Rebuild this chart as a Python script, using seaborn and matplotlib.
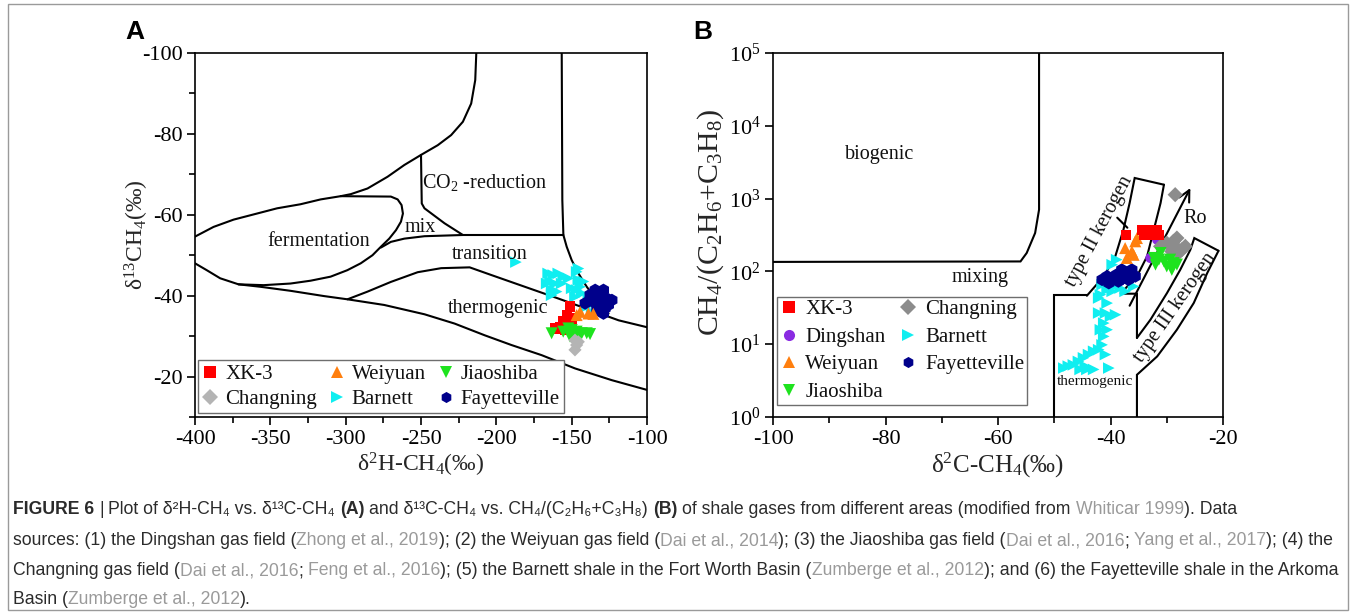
import numpy as np
import pandas as pd
import matplotlib
matplotlib.use("Agg")
import matplotlib.pyplot as plt
import seaborn as sns
from matplotlib.lines import Line2D
from matplotlib.patches import Rectangle
from matplotlib import font_manager
from matplotlib.ticker import MultipleLocator, LogLocator, LogFormatterMathtext, NullLocator

# ---------------- data: panel A (dD-CH4 vs d13C-CH4) ----------------
a_xk3_x = [-151.1, -153.3, -150.0, -155.6, -152.2, -161.1, -157.8, -154.4, -150.0]
a_xk3_y = [-37.3, -35.2, -34.4, -33.6, -33.2, -31.9, -32.3, -31.5, -32.7]
a_weiyuan_x = [-144.4, -138.9, -146.7, -135.6]
a_weiyuan_y = [-36.0, -35.6, -35.2, -35.5]
a_jiaoshiba_x = [-163.3, -152.2, -150.0, -146.7, -143.3, -140.0, -137.8, -151.1, -145.6, -148.9, -155.6]
a_jiaoshiba_y = [-30.7, -31.9, -31.5, -31.1, -30.7, -30.7, -30.5, -29.9, -29.9, -30.3, -31.1]
a_changning_x = [-147.8, -146.7, -147.8, -145.6]
a_changning_y = [-29.0, -27.8, -26.6, -28.6]
a_barnett_x = [-165.6, -162.2, -158.9, -155.6, -164.4, -161.1, -156.7, -163.3, -160.0, -152.2, -146.7,
               -145.6, -144.4, -143.3, -146.7, -138.9, -140.0, -136.7, -147.8, -150.0, -142.2, -187.0,
               -145.5, -166.6, -163.3]
a_barnett_y = [-45.5, -45.1, -45.5, -44.7, -43.5, -43.0, -43.0, -41.4, -41.0, -44.3, -45.9,
               -43.9, -42.2, -40.6, -41.4, -38.9, -37.3, -36.0, -39.7, -41.8, -43.5, -48.3,
               -46.7, -43.0, -40.1]
a_fay_x = [-134.4, -128.9, -132.2, -126.7, -123.3, -135.6, -130.0, -133.3, -127.8, -125.6, -141.1, -131.1,
           -128.9, -137.8]
a_fay_y = [-41.4, -41.4, -39.7, -39.3, -38.9, -38.5, -37.7, -36.4, -36.9, -37.7, -38.1, -38.9,
           -35.6, -40.2]

# field boundaries (panel A)
a_bio_top_x = [-213.3, -214.0, -216.7, -222.2, -230.0, -238.9, -250.0, -261.1, -272.2, -285.5, -296.6, -303.3,
               -316.6, -330.0, -345.5, -358.9, -374.4, -387.7, -400.0]
a_bio_top_y = [-100.0, -93.3, -87.5, -83.0, -79.7, -77.2, -74.8, -72.3, -69.4, -66.5, -65.1, -64.6,
               -63.8, -62.6, -61.6, -60.3, -58.8, -57.0, -54.6]
a_ferm_x = [-303.3, -270.0, -265.5, -262.9, -262.0, -263.3, -266.6, -271.1, -276.6, -282.2, -290.0, -298.9,
            -310.0, -323.3, -336.6, -354.4, -371.1]
a_ferm_y = [-64.6, -64.5, -63.8, -62.4, -60.3, -58.3, -56.2, -54.1, -52.1, -50.0, -48.0, -46.3,
            -44.7, -43.7, -43.0, -42.6, -42.8]
a_bottom_x = [-400.0, -392.2, -383.3, -371.1, -356.6, -336.6, -314.4, -298.8, -274.4, -247.7, -227.7, -207.7,
              -190.0, -170.0, -147.7, -123.3, -100.0]
a_bottom_y = [-48.0, -46.3, -44.3, -42.8, -42.2, -41.2, -39.9, -39.1, -37.7, -35.4, -33.1, -30.2,
              -27.8, -25.3, -22.0, -19.1, -16.7]
a_trans_top_x = [-276.6, -270.0, -261.1, -247.7, -222.2, -181.1, -155.5]
a_trans_top_y = [-51.9, -53.3, -54.1, -54.7, -55.0, -55.0, -55.0]
a_co2_left_x = [-222.2, -234.4, -247.7, -249.5, -250.0]
a_co2_left_y = [-55.0, -57.9, -61.6, -62.8, -74.8]
a_right_x = [-156.6, -156.2, -155.5, -153.3, -150.0, -145.5, -140.0, -133.3, -125.5]
a_right_y = [-100.0, -63.6, -55.0, -52.1, -48.8, -45.5, -42.2, -38.9, -35.6]
a_thermo_top_x = [-298.8, -285.5, -270.0, -252.2, -236.6, -217.7, -203.3, -181.1, -158.9, -136.6, -118.8, -100.0]
a_thermo_top_y = [-39.1, -41.0, -43.4, -45.8, -46.8, -47.0, -45.1, -42.2, -39.3, -36.3, -33.9, -32.2]

# ---------------- data: panel B (d13C-CH4 vs C1/(C2+C3)) ----------------
b_xk3_x = [-37.2, -34.4, -33.5, -32.6, -31.7, -31.4, -34.1, -32.9]
b_xk3_y = [319, 374, 374, 355, 374, 319, 319, 319]
b_dingshan_x = [-31.7, -32.9]
b_dingshan_y = [273, 153]
b_weiyuan_x = [-35.3, -35.6, -37.4, -36.2, -37.1, -35.9]
b_weiyuan_y = [287, 259, 209, 188, 153, 169]
b_jiaoshiba_x = [-32.3, -31.4, -30.5, -29.4, -28.8, -30.0, -31.1, -29.1, -28.2, -32.0]
b_jiaoshiba_y = [153, 145, 137, 145, 130, 117, 179, 105, 124, 124]
b_changning_x = [-28.5, -31.1, -30.0, -28.8, -28.2, -27.3, -26.7, -29.1, -27.9, -28.2]
b_changning_y = [1132, 221, 245, 259, 209, 199, 221, 188, 179, 287]
b_barnett_x = [-48.3, -47.5, -46.6, -45.7, -44.8, -43.9, -43.0, -45.4, -44.5, -42.1, -41.5, -41.2,
               -41.8, -40.6, -41.2, -42.1, -40.9, -39.1, -40.0, -40.3, -40.9, -43.0, -41.8, -40.6,
               -39.4, -41.5, -38.3, -39.7, -38.9, -35.9, -37.4, -40.6, -42.1, -44.2, -39.7]
b_barnett_y = [4.7, 5.0, 5.2, 5.8, 6.5, 7.2, 8.0, 4.5, 5.0, 8.4, 9.8, 12.8,
               15.8, 15.8, 19.5, 26.8, 26.8, 25.4, 24.1, 4.7, 7.2, 4.5, 47.9, 56.1,
               62.2, 65.6, 59.0, 123.6, 144.9, 62.2, 53.2, 36.7, 43.1, 4.5, 53.2]
b_fay_x = [-41.5, -40.6, -39.7, -38.9, -38.0, -37.1, -36.2, -35.6, -37.7, -36.8, -40.3, -38.6, -36.2]
b_fay_y = [76.9, 85.5, 81.1, 90.2, 105.4, 95.1, 90.2, 85.5, 81.1, 76.9, 69.2, 72.9, 105.4]

# field boundaries (panel B)
b_bio_x = [-52.7, -52.7, -53.4, -54.9, -56.0, -100.0]
b_bio_y = [1e5, 705, 337, 179, 137, 135]
b_thermo_left_x = [-50.0, -50.0, -44.2]
b_thermo_left_y = [1.0, 47.9, 47.9]
b_t2_left_x = [-44.2, -41.2, -39.15, -37.7, -36.6, -35.7, -30.5]
b_t2_left_y = [46.3, 85.5, 161, 374, 869, 1919, 1552]
b_t2_right_x = [-30.5, -31.1, -32.3, -33.5, -35.3, -38.25, -35.3, -35.3]
b_t2_right_y = [1552, 869, 374, 161, 85.5, 49.4, 49.4, 12.2]
b_t3_left_x = [-35.3, -32.9, -29.95, -27.6, -25.8, -25.1, -20.8]
b_t3_left_y = [12.2, 21.7, 50.5, 105.4, 198.6, 287, 192]
b_t3_right_x = [-20.8, -22.8, -25.2, -28.2, -31.7, -35.3, -35.3]
b_t3_right_y = [192, 95.1, 36.8, 15.8, 6.8, 3.8, 1.0]
b_tick_x = [-38.8, -37.0]
b_tick_y = [547, 398]
b_ro_x = [-36.6, -25.8]
b_ro_y = [33.8, 1396]

series_names = ["XK-3", "Dingshan", "Weiyuan", "Jiaoshiba", "Changning", "Barnett", "Fayetteville"]

# ---------------- styles ----------------
style = {
    "XK-3": dict(marker="s", color="#ff0000", s=55),
    "Dingshan": dict(marker="o", color="#8a2be2", s=55),
    "Weiyuan": dict(marker="^", color="#ff7f0e", s=75),
    "Jiaoshiba": dict(marker="v", color="#1ee31e", s=75),
    "Changning": dict(marker="D", color="#b4b4b4", s=45),
    "Barnett": dict(marker=">", color="#10eef0", s=70),
    "Fayetteville": dict(marker="h", color="#00008b", s=85),
}

sns.set_style("ticks")
plt.rcParams.update({
    "font.family": ["Liberation Serif", "DejaVu Serif"],
    "mathtext.fontset": "custom",
    "mathtext.rm": "Liberation Serif",
    "mathtext.it": "Liberation Serif:italic",
    "mathtext.bf": "Liberation Serif:bold",
    "axes.unicode_minus": False,
    "axes.edgecolor": "black",
    "axes.linewidth": 1.2,
    "xtick.color": "black",
    "ytick.color": "black",
    "text.color": "#111111",
})

W, H = 1356, 614
fig = plt.figure(figsize=(W / 100, H / 100), dpi=100)
fig.patch.set_facecolor("white")
axA = fig.add_axes([195 / W, 1 - 417 / H, 452 / W, 364 / H])
axB = fig.add_axes([773 / W, 1 - 417 / H, 450 / W, 364 / H])

LW = 1.5
TICK_FS = 16

# ---------------- panel A ----------------
for xs, ys in [(a_bio_top_x, a_bio_top_y), (a_ferm_x, a_ferm_y), (a_bottom_x, a_bottom_y),
               (a_trans_top_x, a_trans_top_y), (a_co2_left_x, a_co2_left_y), (a_right_x, a_right_y),
               (a_thermo_top_x, a_thermo_top_y)]:
    axA.plot(xs, ys, color="black", lw=LW, zorder=2, solid_joinstyle="round")

a_data = {
    "XK-3": (a_xk3_x, a_xk3_y),
    "Weiyuan": (a_weiyuan_x, a_weiyuan_y),
    "Barnett": (a_barnett_x, a_barnett_y),
    "Fayetteville": (a_fay_x, a_fay_y),
    "Jiaoshiba": (a_jiaoshiba_x, a_jiaoshiba_y),
    "Changning": (a_changning_x, a_changning_y),
}
for name in ["Barnett", "Fayetteville", "XK-3", "Weiyuan", "Jiaoshiba", "Changning"]:
    xs, ys = a_data[name]
    st = style[name]
    sns.scatterplot(x=xs, y=ys, ax=axA, marker=st["marker"], color=st["color"], s=st["s"],
                    edgecolor="none", linewidth=0, legend=False, zorder=3)

axA.set_xlim(-400, -100)
axA.set_ylim(-10, -100)
axA.xaxis.set_major_locator(MultipleLocator(50))
axA.xaxis.set_minor_locator(MultipleLocator(25))
axA.yaxis.set_major_locator(MultipleLocator(20))
axA.yaxis.set_minor_locator(MultipleLocator(10))
axA.set_yticks([-100, -80, -60, -40, -20])
axA.tick_params(which="major", direction="out", length=6, width=1.2, labelsize=TICK_FS, pad=3)
axA.tick_params(which="minor", direction="out", length=4, width=1.2)
axA.set_xlabel("δ$^{2}$H-CH$_{4}$(‰)", fontsize=17, labelpad=2)
axA.set_ylabel("δ$^{13}$CH$_{4}$(‰)", fontsize=17)
axA.yaxis.set_label_coords(-0.097, 0.5)

REG_FS = 14.5
axA.text(-318, -53.3, "fermentation", fontsize=REG_FS, ha="center", va="center")
axA.text(-250.7, -56.8, "mix", fontsize=REG_FS, ha="center", va="center")
axA.text(-208, -68.1, "CO$_{2}$ -reduction", fontsize=REG_FS, ha="center", va="center")
axA.text(-204.7, -50.1, "transition", fontsize=REG_FS, ha="center", va="center")
axA.text(-198.9, -36.9, "thermogenic", fontsize=REG_FS, ha="center", va="center")

def proxy(st, ms):
    return Line2D([], [], marker=st["marker"], color=st["color"], linestyle="none",
                  markersize=ms, markeredgewidth=0)

orderA = ["XK-3", "Changning", "Weiyuan", "Barnett", "Jiaoshiba", "Fayetteville"]
legA = axA.legend([proxy(style[n], 8) for n in orderA], orderA, ncol=3, loc="lower left",
                  bbox_to_anchor=(0.006, 0.011), borderaxespad=0, fontsize=15,
                  frameon=True, fancybox=False, framealpha=1, edgecolor="#6e6e6e",
                  handlelength=0.8, handletextpad=0.32, columnspacing=0.55,
                  labelspacing=0.25, borderpad=0.2)
legA.get_frame().set_linewidth(1.0)

# ---------------- panel B ----------------
for xs, ys in [(b_bio_x, b_bio_y), (b_thermo_left_x, b_thermo_left_y), (b_t2_left_x, b_t2_left_y),
               (b_t2_right_x, b_t2_right_y), (b_t3_left_x, b_t3_left_y), (b_t3_right_x, b_t3_right_y),
               (b_tick_x, b_tick_y)]:
    axB.plot(xs, ys, color="black", lw=LW, zorder=2, solid_joinstyle="miter")

axB.annotate("", xy=(b_ro_x[1], b_ro_y[1]), xytext=(b_ro_x[0], b_ro_y[0]),
             arrowprops=dict(arrowstyle="->", lw=1.5, color="black", mutation_scale=20,
                             shrinkA=0, shrinkB=0), zorder=2)

b_data = {
    "XK-3": (b_xk3_x, b_xk3_y),
    "Dingshan": (b_dingshan_x, b_dingshan_y),
    "Weiyuan": (b_weiyuan_x, b_weiyuan_y),
    "Jiaoshiba": (b_jiaoshiba_x, b_jiaoshiba_y),
    "Changning": (b_changning_x, b_changning_y),
    "Barnett": (b_barnett_x, b_barnett_y),
    "Fayetteville": (b_fay_x, b_fay_y),
}
styleB = dict(style)
styleB["Changning"] = dict(marker="D", color="#8c8c8c", s=60)
for name in ["Barnett", "Fayetteville", "Dingshan", "Changning", "Jiaoshiba", "Weiyuan", "XK-3"]:
    xs, ys = b_data[name]
    st = styleB[name]
    sns.scatterplot(x=xs, y=ys, ax=axB, marker=st["marker"], color=st["color"], s=st["s"],
                    edgecolor="none", linewidth=0, legend=False, zorder=3)

axB.set_yscale("log")
axB.set_xlim(-100, -20)
axB.set_ylim(1, 1e5)
axB.xaxis.set_major_locator(MultipleLocator(20))
axB.xaxis.set_minor_locator(MultipleLocator(10))
axB.yaxis.set_major_locator(LogLocator(base=10, numticks=10))
axB.yaxis.set_major_formatter(LogFormatterMathtext())
axB.yaxis.set_minor_locator(NullLocator())
axB.tick_params(which="major", direction="out", length=6, width=1.2, labelsize=TICK_FS, pad=3)
axB.tick_params(which="minor", direction="out", length=4, width=1.2)
axB.set_xlabel("δ$^{2}$C-CH$_{4}$(‰)", fontsize=18, labelpad=2)
axB.set_ylabel("CH$_{4}$/(C$_{2}$H$_{6}$+C$_{3}$H$_{8}$)", fontsize=21.5)
axB.yaxis.set_label_coords(-0.104, 0.536)

axB.text(-81.0, 4009, "biogenic", fontsize=REG_FS, ha="center", va="center")
axB.text(-63.2, 82, "mixing", fontsize=REG_FS, ha="center", va="center")
axB.text(-42.7, 3.1, "thermogenic", fontsize=11, ha="center", va="center")
axB.text(-24.9, 530, "Ro", fontsize=REG_FS, ha="center", va="center")
axB.text(-41.9, 355, "type II kerogen", fontsize=REG_FS, ha="center", va="center",
         rotation=62, rotation_mode="anchor")
axB.text(-28.5, 31.4, "type III kerogen", fontsize=REG_FS, ha="center", va="center",
         rotation=55, rotation_mode="anchor")

orderB = ["XK-3", "Dingshan", "Weiyuan", "Jiaoshiba", "Changning", "Barnett", "Fayetteville"]
legB = axB.legend([proxy(styleB[n], 8) for n in orderB], orderB, ncol=2, loc="lower left",
                  bbox_to_anchor=(0.009, 0.033), borderaxespad=0, fontsize=15,
                  frameon=True, fancybox=False, framealpha=1, edgecolor="#6e6e6e",
                  handlelength=0.8, handletextpad=0.4, columnspacing=0.7,
                  labelspacing=0.38, borderpad=0.15)
legB.get_frame().set_linewidth(1.0)

for ax in (axA, axB):
    for sp in ax.spines.values():
        sp.set_visible(True)
        sp.set_linewidth(1.2)
        sp.set_color("black")

# panel letters
fig.text(125 / W, 1 - 32 / H, "A", fontsize=19, fontweight="bold", family=["Liberation Sans", "DejaVu Sans"],
         ha="left", va="center", color="black")
fig.text(693 / W, 1 - 32 / H, "B", fontsize=19, fontweight="bold", family=["Liberation Sans", "DejaVu Sans"],
         ha="left", va="center", color="black")

# outer frame
fig.add_artist(Rectangle((8 / W, 4 / H), 1340 / W, 606 / H, transform=fig.transFigure,
                         fill=False, edgecolor="#9a9a9a", lw=1.0))

# ---------------- caption ----------------
names = {f.name for f in font_manager.fontManager.ttflist}
cap_font = "Liberation Sans Narrow" if "Liberation Sans Narrow" in names else "Liberation Sans"
cap_family = [cap_font, "DejaVu Sans"]
DARK, GREY = "#2b2b2b", "#9a9a9a"

caption_lines = [
    [("FIGURE 6", "b"), (" | ", "n"), ("Plot of δ²H-CH₄ vs. δ¹³C-CH₄ ", "n"), ("(A)", "b"),
     (" and δ¹³C-CH₄ vs. CH₄/(C₂H₆+C₃H₈) ", "n"), ("(B)", "b"),
     (" of shale gases from different areas (modified from ", "n"), ("Whiticar 1999", "g"), ("). Data", "n")],
    [("sources: (1) the Dingshan gas field (", "n"), ("Zhong et al., 2019", "g"),
     ("); (2) the Weiyuan gas field (", "n"), ("Dai et al., 2014", "g"),
     ("); (3) the Jiaoshiba gas field (", "n"), ("Dai et al., 2016", "g"), ("; ", "n"),
     ("Yang et al., 2017", "g"), ("); (4) the", "n")],
    [("Changning gas field (", "n"), ("Dai et al., 2016", "g"), ("; ", "n"), ("Feng et al., 2016", "g"),
     ("); (5) the Barnett shale in the Fort Worth Basin (", "n"), ("Zumberge et al., 2012", "g"),
     ("); and (6) the Fayetteville shale in the Arkoma", "n")],
    [("Basin (", "n"), ("Zumberge et al., 2012", "g"), (").", "n")],
]
caption_baselines = [514, 545, 575, 604]

renderer = fig.canvas.get_renderer()

def txt_kw(kind, fs):
    return dict(fontsize=fs, family=cap_family, color=(GREY if kind == "g" else DARK),
                fontweight=("bold" if kind == "b" else "normal"))

def measure(s, kind, fs):
    if not s:
        return 0.0
    t = fig.text(0, 0, s, **txt_kw(kind, fs))
    w = t.get_window_extent(renderer).width
    t.remove()
    return w

def space_w(kind, fs):
    return measure("x x", kind, fs) - measure("xx", kind, fs)

def line_width(runs, fs):
    total = 0.0
    for s, k in runs:
        lead = len(s) - len(s.lstrip(" "))
        trail = len(s) - len(s.rstrip(" "))
        sw = space_w(k, fs)
        total += (lead + trail) * sw + measure(s.strip(" "), k, fs)
    return total

ref_fs = 12.0
target = 1334 - 13
scale = target / line_width(caption_lines[1], ref_fs)
cap_fs = ref_fs * scale

for runs, base in zip(caption_lines, caption_baselines):
    x = 13.0
    for s, k in runs:
        lead = len(s) - len(s.lstrip(" "))
        trail = len(s) - len(s.rstrip(" "))
        sw = space_w(k, cap_fs)
        x += lead * sw
        core = s.strip(" ")
        if core:
            fig.text(x / W, 1 - base / H, core, ha="left", va="baseline", **txt_kw(k, cap_fs))
            x += measure(core, k, cap_fs)
        x += trail * sw

fig.savefig("out.png", dpi=100, facecolor="white")
